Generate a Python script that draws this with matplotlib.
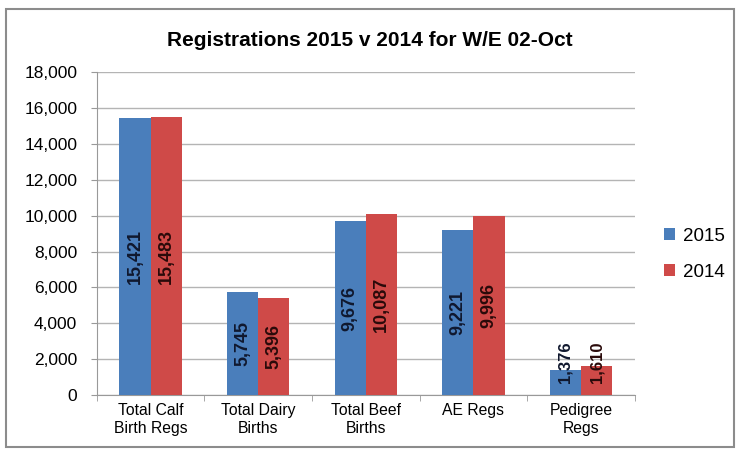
import matplotlib
matplotlib.use("Agg")
import matplotlib.pyplot as plt
import numpy as np
from matplotlib.patches import Rectangle

# data
categories = ["Total Calf\nBirth Regs", "Total Dairy\nBirths", "Total Beef\nBirths", "AE Regs", "Pedigree\nRegs"]
regs_2015 = [15421, 5745, 9676, 9221, 1376]
regs_2014 = [15483, 5396, 10087, 9996, 1610]

blue = "#4a7ebb"
red = "#cf4a48"

plt.rcParams['font.family'] = ['Liberation Sans', 'DejaVu Sans']

fig = plt.figure(figsize=(7.39, 4.54), dpi=100)
ax = fig.add_axes([0.131, 0.130, 0.728, 0.711])

# outer chart frame
fig.patches.append(Rectangle((0.008, 0.015), 0.985, 0.965, transform=fig.transFigure,
                             fill=False, edgecolor="#8c8c8c", linewidth=1.5))

x = np.arange(len(categories))
w = 0.29
b1 = ax.bar(x - w / 2, regs_2015, w, color=blue, label="2015", zorder=3)
b2 = ax.bar(x + w / 2, regs_2014, w, color=red, label="2014", zorder=3)

# data labels, rotated, inside bars
for bars, vals, col in [(b1, regs_2015, "#10182e"), (b2, regs_2014, "#2a0a0a")]:
    for bar, v in zip(bars, vals):
        cx = bar.get_x() + bar.get_width() / 2
        if v < 3000:
            ax.text(cx, 650, f"{v:,}", rotation=90, ha="center", va="bottom",
                    fontsize=12, fontweight="bold", color=col, zorder=4)
        else:
            ax.text(cx, v / 2, f"{v:,}", rotation=90, ha="center", va="center",
                    fontsize=13, fontweight="bold", color=col, zorder=4)

ax.set_ylim(0, 18000)
ax.set_xlim(-0.5, len(categories) - 0.5)
ax.set_yticks(np.arange(0, 18001, 2000))
ax.set_yticklabels([f"{t:,}" for t in range(0, 18001, 2000)], fontsize=12.5)
ax.set_xticks(x)
ax.set_xticklabels(categories, fontsize=11.3)
ax.set_xticks(np.arange(-0.5, len(categories), 1), minor=True)
ax.tick_params(axis="x", which="major", length=0, pad=6)
ax.tick_params(axis="x", which="minor", length=4, color="#999999")
ax.tick_params(axis="y", length=4, color="#999999", pad=10)

ax.grid(axis="y", color="#b4b4b4", linewidth=1, zorder=0)
for s in ["top", "right"]:
    ax.spines[s].set_visible(False)
ax.spines["left"].set_color("#999999")
ax.spines["bottom"].set_color("#999999")

fig.text(0.5, 0.91, "Registrations 2015 v 2014 for W/E 02-Oct", ha="center", va="center",
         fontsize=15, fontweight="bold")

fig.legend(loc="center left", bbox_to_anchor=(0.876, 0.44), frameon=False, fontsize=13.5,
           handlelength=0.6, handleheight=0.6, handletextpad=0.4, labelspacing=1.0)

fig.savefig("out.png", dpi=100)
